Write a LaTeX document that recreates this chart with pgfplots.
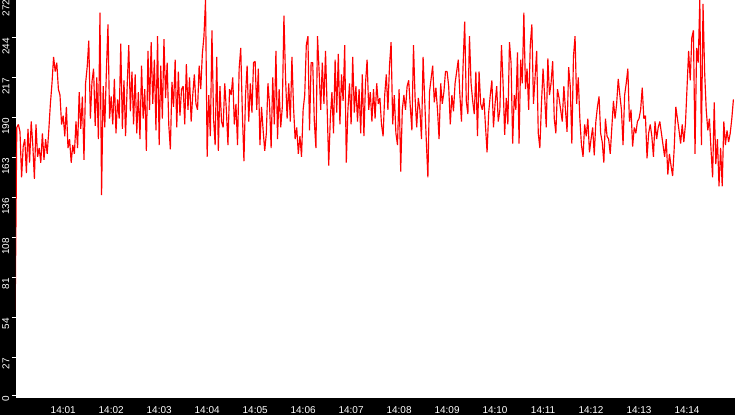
\documentclass[border=0pt]{standalone}
\usepackage{fontspec}
\setmainfont{Liberation Sans}
\usepackage{pgfplots}
\usepackage{pgfplotstable}
\pgfplotsset{compat=1.18}

% one sample every 2 s, 14:00:00 .. 14:14:58, 15 values per line = 30 s
\pgfplotstableread[header=false, row sep=\\]{
60\\184\\186\\181\\150\\171\\176\\153\\183\\160\\188\\172\\149\\186\\164\\
170\\160\\180\\162\\176\\166\\182\\200\\214\\232\\222\\228\\210\\206\\186\\
192\\178\\198\\170\\176\\160\\172\\166\\188\\170\\208\\183\\205\\162\\214\\
225\\243\\190\\215\\224\\185\\218\\176\\262\\138\\212\\184\\222\\254\\190\\
205\\186\\217\\180\\203\\190\\241\\183\\216\\178\\212\\240\\195\\222\\186\\
220\\180\\208\\176\\226\\190\\210\\168\\236\\196\\242\\200\\230\\182\\246\\
172\\226\\190\\244\\204\\228\\186\\169\\215\\198\\230\\184\\222\\192\\210\\
212\\186\\227\\196\\218\\188\\206\\220\\200\\196\\226\\210\\234\\246\\271\\
164\\206\\178\\250\\190\\172\\232\\168\\212\\188\\184\\214\\196\\172\\210\\
206\\218\\186\\200\\172\\224\\238\\194\\161\\206\\226\\188\\214\\194\\228\\
229\\196\\224\\172\\198\\182\\168\\180\\214\\200\\170\\218\\186\\236\\176\\
210\\184\\198\\260\\218\\190\\214\\188\\232\\198\\176\\184\\166\\178\\164\\
196\\206\\240\\246\\182\\228\\228\\188\\170\\246\\222\\196\\228\\200\\236\\
198\\158\\190\\208\\180\\230\\194\\234\\186\\220\\202\\240\\160\\196\\214\\
186\\232\\194\\212\\188\\210\\180\\220\\178\\214\\230\\196\\208\\188\\210\\
190\\214\\200\\204\\186\\178\\206\\220\\196\\226\\242\\186\\206\\180\\172\\
210\\154\\196\\206\\196\\212\\216\\198\\182\\240\\204\\184\\204\\196\\176\\
232\\203\\175\\150\\208\\217\\226\\201\\211\\196\\176\\214\\200\\208\\222\\
222\\212\\186\\206\\195\\214\\222\\230\\206\\188\\226\\256\\202\\193\\246\\
214\\202\\193\\222\\178\\222\\200\\196\\204\\185\\167\\194\\206\\216\\184\\
200\\212\\188\\196\\240\\214\\179\\204\\186\\242\\228\\173\\206\\196\\235\\
173\\230\\214\\262\\210\\224\\196\\240\\254\\200\\218\\236\\180\\170\\200\\
224\\205\\184\\231\\206\\214\\229\\190\\180\\210\\204\\196\\188\\212\\196\\
181\\225\\212\\173\\232\\246\\200\\218\\190\\172\\164\\186\\178\\190\\167\\
176\\184\\165\\188\\198\\205\\180\\174\\160\\190\\178\\176\\166\\184\\202\\
190\\200\\217\\206\\196\\172\\206\\214\\224\\188\\196\\171\\184\\180\\188\\
190\\196\\211\\190\\192\\163\\180\\186\\178\\164\\188\\176\\184\\188\\180\\
172\\164\\176\\152\\166\\158\\151\\170\\198\\190\\182\\173\\186\\174\\186\\
211\\236\\216\\245\\250\\166\\238\\228\\271\\172\\268\\222\\196\\182\\190\\
169\\150\\201\\159\\176\\144\\170\\144\\188\\172\\182\\174\\180\\190\\203\\
}\load

\begin{document}
\begin{tikzpicture}
\useasboundingbox (0,0) rectangle (735bp,415bp);
\fill[black] (0,0) rectangle (735bp,415bp);
\begin{axis}[
    at={(16bp,17bp)}, anchor=south west,
    scale only axis,
    width=719bp, height=400bp,
    xmin=1, xmax=900,
    ymin=0, ymax=272,
    axis background/.style={fill=white},
    axis line style={draw=none},
    tick align=outside,
    major tick length=4bp,
    minor tick length=7bp,
    tick style={white, line width=1bp},
    xtick pos=bottom, ytick pos=left,
    xtick={60,120,...,840},
    xtick style={draw=none},
    minor xtick={60,120,...,840},
    xticklabels={14:01,14:02,14:03,14:04,14:05,14:06,14:07,14:08,14:09,14:10,14:11,14:12,14:13,14:14},
    ytick={1.8,27.2,54.4,81.6,108.8,136,163.2,190.4,217.6,244.8,271},
    yticklabels={0,27,54,81,108,136,163,190,217,244,272},
    ticklabel style={text=white, inner sep=0pt, font=\fontsize{10}{10}\selectfont},
    xticklabel style={anchor=north},
    xticklabel shift=4.5bp,
    yticklabel style={rotate=90, anchor=south east},
    yticklabel shift=2.5bp,
]
\addplot[red, line width=1.15bp, line join=bevel]
    table[x expr=\coordindex*2, y index=0] {\load};
\end{axis}
\end{tikzpicture}
\end{document}
